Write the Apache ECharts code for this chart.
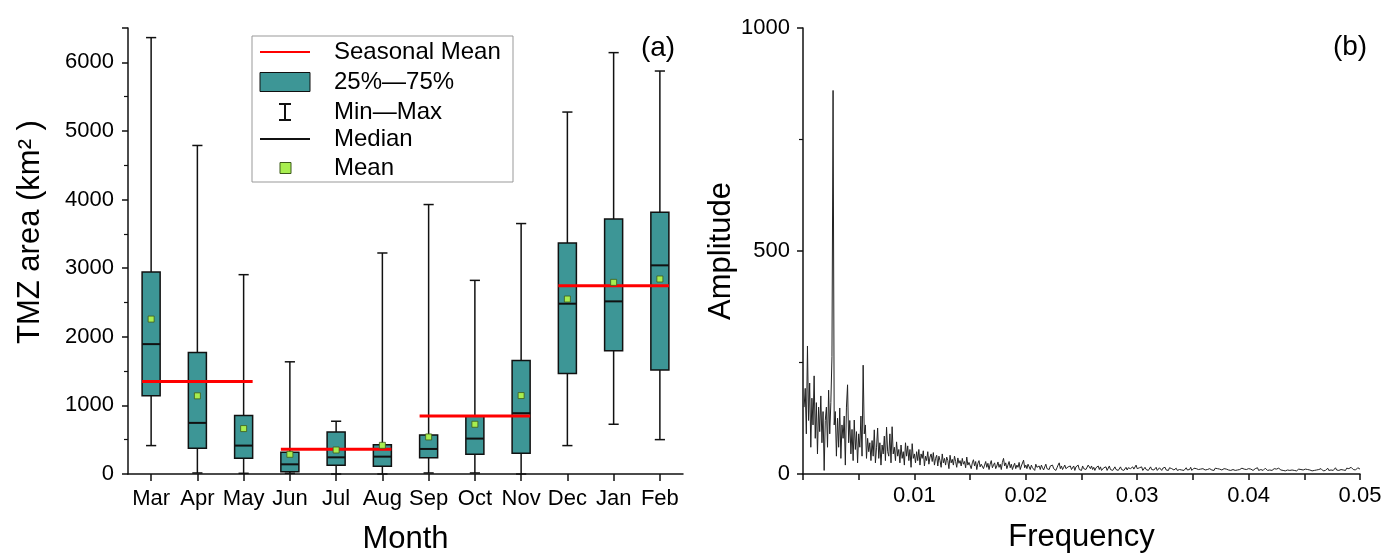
<!DOCTYPE html>
<html>
<head>
<meta charset="utf-8">
<title>TMZ area and spectrum</title>
<script src="https://cdn.jsdelivr.net/npm/echarts@6/dist/echarts.min.js"></script>
<style>
  html, body { margin: 0; padding: 0; background: #fff; }
  #chart { width: 1383px; height: 554px; }
</style>
</head>
<body>
<div id="chart"></div>
<script>
// ---- panel (a): monthly TMZ area box plots ----
const months = ['Mar', 'Apr', 'May', 'Jun', 'Jul', 'Aug', 'Sep', 'Oct', 'Nov', 'Dec', 'Jan', 'Feb'];
const minVals    = [414, 15, 10, 10, 0, 0, 15, 15, 0, 414, 725, 501];
const q1Vals     = [1139, 375, 229, 34, 127, 112, 238, 287, 302, 1465, 1796, 1514];
const medianVals = [1893, 745, 414, 141, 243, 253, 365, 516, 886, 2482, 2516, 3041];
const q3Vals     = [2945, 1771, 851, 316, 613, 428, 569, 842, 1654, 3368, 3718, 3815];
const maxVals    = [6360, 4788, 2905, 1635, 769, 3221, 3927, 2822, 3650, 5275, 6141, 5873];
const meanVals   = [2258, 1139, 662, 287, 350, 418, 540, 725, 1143, 2550, 2793, 2842];

// seasonal means (first month index, last month index, value)
const seasonStart = [0, 3, 6, 9];
const seasonEnd   = [2, 5, 8, 11];
const seasonMean  = [1348, 360, 847, 2745];

const yTicksA = [0, 1000, 2000, 3000, 4000, 5000, 6000];

// ---- panel (b): amplitude spectrum ----
const freqStart = 0.0001;
const freqStep = 0.0001;
const ampValues = [
  150, 192, 90, 287, 120, 204, 60, 170, 110, 220, 80, 160, 45, 150, 95, 175, 70, 140, 8, 120,
  150, 60, 188, 90, 160, 263, 860, 110, 140, 40, 125, 60, 148, 35, 110, 80, 130, 20, 150, 200,
  70, 120, 45, 100, 30, 121, 55, 95, 25, 90, 60, 130, 40, 244, 90, 110, 35, 80, 50, 70,
  30, 75, 40, 99, 25, 60, 103, 35, 70, 20, 65, 45, 85, 30, 105, 50, 40, 90, 25, 106,
  45, 60, 30, 72, 40, 55, 25, 65, 35, 50, 20, 70, 40, 63, 30, 55, 15, 68, 35, 45,
  25, 50, 30, 55, 20, 45, 35, 52, 18, 40, 30, 50, 22, 38, 45, 28, 48, 20, 35, 42,
  18, 40, 30, 15, 45, 25, 35, 20, 38, 30, 12, 42, 25, 33, 20, 40, 28, 15, 36, 24,
  30, 18, 35, 22, 28, 14, 38, 20, 26, 30, 12, 25, 32, 18, 28, 10, 24, 30, 16, 22,
  26, 12, 20, 28, 15, 24, 10, 22, 30, 14, 20, 25, 12, 18, 27, 15, 22, 10, 26, 35,
  18, 25, 12, 20, 28, 14, 22, 10, 18, 24, 12, 20, 15, 26, 10, 18, 22, 31, 14, 20,
  12, 22, 16, 10, 20, 14, 18, 8, 22, 15, 12, 18, 10, 20, 14, 9, 16, 22, 12, 15,
  10, 18, 14, 20, 12, 16, 8, 14, 20, 25, 12, 18, 10, 15, 20, 12, 8, 16, 12, 18,
  10, 14, 18, 8, 16, 12, 20, 10, 14, 8, 18, 12, 16, 10, 14, 20, 24, 12, 18, 10,
  15, 8, 14, 12, 18, 10, 16, 8, 12, 14, 10, 16, 8, 12, 18, 10, 14, 8, 12, 16,
  10, 14, 8, 12, 16, 10, 13, 8, 12, 15, 9, 14, 10, 12, 8, 16, 11, 14, 20, 12,
  9, 14, 11, 16, 8, 12, 15, 10, 13, 8, 12, 16, 10, 14, 9, 12, 15, 8, 11, 14,
  10, 8, 13, 11, 15, 9, 12, 8, 14, 10, 12, 16, 9, 11, 13, 8, 12, 10, 14, 9,
  12, 8, 11, 14, 9, 12, 10, 15, 8, 11, 13, 9, 12, 8, 10, 14, 11, 8, 12, 10,
  9, 13, 10, 8, 12, 15, 9, 11, 8, 13, 10, 12, 8, 11, 14, 9, 10, 12, 8, 11,
  13, 9, 11, 8, 12, 10, 14, 8, 11, 9, 12, 10, 8, 13, 9, 11, 15, 10, 8, 12,
  9, 11, 13, 8, 10, 12, 9, 14, 8, 11, 10, 12, 8, 9, 13, 10, 8, 11, 9, 12,
  8, 10, 12, 9, 11, 8, 13, 10, 9, 12, 8, 10, 7, 11, 9, 12, 8, 10, 9, 11,
  8, 10, 7, 9, 11, 8, 10, 6, 9, 8, 11, 7, 10, 8, 9, 12, 7, 10, 8, 11,
  9, 7, 10, 8, 12, 9, 7, 11, 8, 10, 13, 8, 10, 9, 12, 8, 11, 14, 9, 10,
  8, 12, 10, 14, 9, 11, 8, 13, 10, 12, 9, 15, 11, 10, 13, 9, 12, 14, 10, 11
];

const FONT = "'Liberation Sans', Arial, sans-serif";
const TEAL = '#3d9696';
const INK = '#111';

// rows for the custom series: [index, min, q1, median, q3, max]
const boxRows = months.map((m, i) => [i, minVals[i], q1Vals[i], medianVals[i], q3Vals[i], maxVals[i]]);
const seasonRows = seasonMean.map((v, k) => [seasonStart[k], seasonEnd[k], v]);
const spectrum = ampValues.map((a, i) => [+(freqStart + i * freqStep).toFixed(4), a]);

const BOX_FRAC = 0.39;   // box width as share of category band
const CAP_FRAC = 0.11;   // half width of whisker caps

function renderWhisker(params, api) {
  const x = api.value(0);
  const lo = api.coord([x, api.value(1)]);
  const hi = api.coord([x, api.value(5)]);
  const cap = api.size([1, 0])[0] * CAP_FRAC;
  const st = { stroke: INK, lineWidth: 1.5 };
  return {
    type: 'group',
    children: [
      { type: 'line', shape: { x1: lo[0], y1: lo[1], x2: hi[0], y2: hi[1] }, style: st },
      { type: 'line', shape: { x1: lo[0] - cap, y1: lo[1], x2: lo[0] + cap, y2: lo[1] }, style: st },
      { type: 'line', shape: { x1: hi[0] - cap, y1: hi[1], x2: hi[0] + cap, y2: hi[1] }, style: st }
    ]
  };
}

function renderBox(params, api) {
  const x = api.value(0);
  const p1 = api.coord([x, api.value(2)]);
  const p3 = api.coord([x, api.value(4)]);
  const half = api.size([1, 0])[0] * BOX_FRAC / 2;
  return {
    type: 'rect',
    shape: { x: p3[0] - half, y: p3[1], width: half * 2, height: p1[1] - p3[1] },
    style: { fill: TEAL, stroke: INK, lineWidth: 1.5 }
  };
}

function renderMedian(params, api) {
  const x = api.value(0);
  const p = api.coord([x, api.value(3)]);
  const half = api.size([1, 0])[0] * BOX_FRAC / 2;
  return {
    type: 'line',
    shape: { x1: p[0] - half, y1: p[1], x2: p[0] + half, y2: p[1] },
    style: { stroke: INK, lineWidth: 2 }
  };
}

function renderSeason(params, api) {
  const a = api.coord([api.value(0), api.value(2)]);
  const b = api.coord([api.value(1), api.value(2)]);
  const half = api.size([1, 0])[0] * BOX_FRAC / 2;
  return {
    type: 'line',
    shape: { x1: a[0] - half, y1: a[1], x2: b[0] + half, y2: b[1] },
    style: { stroke: '#ff0000', lineWidth: 3 }
  };
}

const axisLine = { show: true, lineStyle: { color: INK, width: 1.5 } };
const labelStyle = { color: '#000', fontSize: 22, fontFamily: FONT };
const nameStyle = { color: '#000', fontSize: 31, fontFamily: FONT };

// legend of panel (a), drawn as graphic items
const LX = 252, LY = 36;
const rowY = [52, 82, 112, 139, 168];
const legendNames = ['Seasonal Mean', '25%\u201475%', 'Min\u2014Max', 'Median', 'Mean'];
const legendGraphic = [
  { type: 'rect', shape: { x: LX, y: LY, width: 261, height: 146 },
    style: { fill: '#fff', stroke: '#999', lineWidth: 1 } },
  { type: 'line', shape: { x1: 260, y1: rowY[0], x2: 310, y2: rowY[0] }, style: { stroke: '#ff0000', lineWidth: 2 } },
  { type: 'rect', shape: { x: 260, y: rowY[1] - 9.5, width: 50, height: 19 }, style: { fill: TEAL, stroke: INK, lineWidth: 1 } },
  { type: 'line', shape: { x1: 285, y1: rowY[2] - 8, x2: 285, y2: rowY[2] + 8 }, style: { stroke: INK, lineWidth: 2 } },
  { type: 'line', shape: { x1: 279, y1: rowY[2] - 8, x2: 291, y2: rowY[2] - 8 }, style: { stroke: INK, lineWidth: 2 } },
  { type: 'line', shape: { x1: 279, y1: rowY[2] + 8, x2: 291, y2: rowY[2] + 8 }, style: { stroke: INK, lineWidth: 2 } },
  { type: 'line', shape: { x1: 260, y1: rowY[3], x2: 310, y2: rowY[3] }, style: { stroke: INK, lineWidth: 2 } },
  { type: 'rect', shape: { x: 280, y: rowY[4] - 5.5, width: 11, height: 11 }, style: { fill: '#a8ee50', stroke: '#3d5a1a', lineWidth: 1 } }
].concat(legendNames.map((t, k) => ({
  type: 'text', x: 334, y: rowY[k],
  style: { text: t, fill: '#000', font: '24px ' + FONT, verticalAlign: 'middle', align: 'left' }
}))).concat([
  { type: 'text', x: 658, y: 48, style: { text: '(a)', fill: '#000', font: '28px ' + FONT, align: 'center', verticalAlign: 'middle' } },
  { type: 'text', x: 1350, y: 47, style: { text: '(b)', fill: '#000', font: '28px ' + FONT, align: 'center', verticalAlign: 'middle' } }
]);

const chart = echarts.init(document.getElementById('chart'), null, { renderer: 'canvas' });
chart.setOption({
  backgroundColor: '#fff',
  animation: false,
  textStyle: { fontFamily: FONT },
  grid: [
    { left: 128, top: 28, width: 555, height: 446, outerBoundsMode: 'none', containLabel: false },
    { left: 803, top: 28, width: 557, height: 446, outerBoundsMode: 'none', containLabel: false }
  ],
  xAxis: [
    {
      type: 'category', gridIndex: 0, data: months, boundaryGap: true,
      axisLine: axisLine,
      axisTick: { show: true, alignWithLabel: true, length: 7, lineStyle: { color: INK, width: 1.5 } },
      axisLabel: Object.assign({ margin: 14, interval: 0 }, labelStyle),
      name: 'Month', nameLocation: 'middle', nameGap: 50, nameTextStyle: nameStyle,
      splitLine: { show: false }
    },
    {
      type: 'value', gridIndex: 1, min: 0, max: 0.05, interval: 0.01,
      axisLine: axisLine,
      axisTick: { show: true, length: 6, lineStyle: { color: INK, width: 1.5 } },
      minorTick: { show: true, splitNumber: 2, length: 6, lineStyle: { color: INK, width: 1.5 } },
      axisLabel: Object.assign({ margin: 11, formatter: v => (v === 0 ? '' : String(+v.toFixed(2))) }, labelStyle),
      name: 'Frequency', nameLocation: 'middle', nameGap: 48, nameTextStyle: nameStyle,
      splitLine: { show: false }
    }
  ],
  yAxis: [
    {
      type: 'value', gridIndex: 0, min: 0, max: 6500, interval: 1000,
      axisLine: axisLine,
      axisTick: { show: true, length: 6, lineStyle: { color: INK, width: 1.5 } },
      minorTick: { show: true, splitNumber: 2, length: 4, lineStyle: { color: INK, width: 1.2 } },
      axisLabel: Object.assign({ margin: 14, showMaxLabel: false,
        formatter: v => (yTicksA.indexOf(v) >= 0 ? String(v) : '') }, labelStyle),
      name: 'TMZ area (km\u00b2 )', nameLocation: 'middle', nameGap: 82,
      nameTextStyle: Object.assign({ padding: [0, 0, 0, 38] }, nameStyle),
      splitLine: { show: false }
    },
    {
      type: 'value', gridIndex: 1, min: 0, max: 1000, interval: 500,
      axisLine: axisLine,
      axisTick: { show: true, length: 6, lineStyle: { color: INK, width: 1.5 } },
      minorTick: { show: true, splitNumber: 2, length: 4, lineStyle: { color: INK, width: 1.2 } },
      axisLabel: Object.assign({ margin: 13, formatter: v => String(v) }, labelStyle),
      name: 'Amplitude', nameLocation: 'middle', nameGap: 42, nameTextStyle: nameStyle,
      splitLine: { show: false }
    }
  ],
  graphic: legendGraphic,
  series: [
    {
      name: 'Min\u2014Max', type: 'custom', xAxisIndex: 0, yAxisIndex: 0,
      renderItem: renderWhisker, data: boxRows, encode: { x: 0, y: [1, 5] }, z: 2
    },
    {
      name: '25%\u201475%', type: 'custom', xAxisIndex: 0, yAxisIndex: 0,
      renderItem: renderBox, data: boxRows, encode: { x: 0, y: [2, 4] }, z: 3
    },
    {
      name: 'Median', type: 'custom', xAxisIndex: 0, yAxisIndex: 0,
      renderItem: renderMedian, data: boxRows, encode: { x: 0, y: 3 }, z: 4
    },
    {
      name: 'Seasonal Mean', type: 'custom', xAxisIndex: 0, yAxisIndex: 0,
      renderItem: renderSeason, data: seasonRows, encode: { x: [0, 1], y: 2 }, z: 5
    },
    {
      name: 'Mean', type: 'scatter', xAxisIndex: 0, yAxisIndex: 0,
      data: meanVals, symbol: 'rect', symbolSize: 6,
      itemStyle: { color: '#a8ee50', borderColor: '#3d5a1a', borderWidth: 0.8, opacity: 1 }, z: 6
    },
    {
      name: 'Amplitude', type: 'line', xAxisIndex: 1, yAxisIndex: 1,
      data: spectrum, showSymbol: false, symbol: 'none', sampling: null,
      lineStyle: { color: '#222', width: 1 }, z: 2
    }
  ]
});
</script>
</body>
</html>
